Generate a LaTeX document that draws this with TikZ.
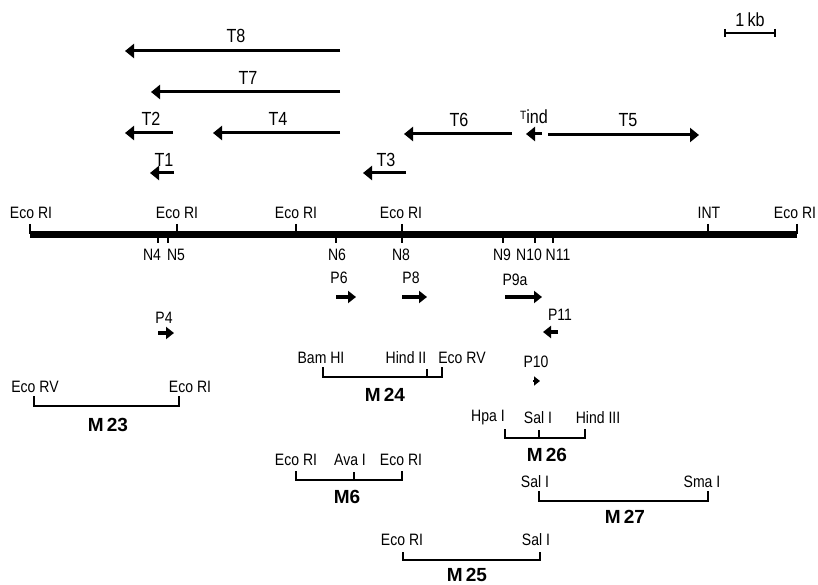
\documentclass[tikz,border=0pt]{standalone}
\usepackage{fontspec}
\setmainfont{Liberation Sans}
\newfontfamily\labfont[FakeStretch=0.85]{Liberation Sans}
\usetikzlibrary{arrows.meta}
\begin{document}
\begin{tikzpicture}[x=1pt,y=-1pt,
 lab/.style={font=\labfont\fontsize{16.5}{16.5}\selectfont, inner sep=0pt},
 tlab/.style={font=\labfont\fontsize{19}{19}\selectfont, inner sep=0pt},
 mlab/.style={font=\fontsize{19}{19}\selectfont\bfseries, inner sep=0pt},
 tr/.style={line width=3pt, -{Triangle[length=9pt,width=14pt]}},
 pr/.style={line width=3.5pt, -{Triangle[length=8pt,width=12pt]}},
 tickmark/.style={line width=2pt},
 brk/.style={line width=2.8pt}]
\useasboundingbox (0,0) rectangle (818,585);

% ---- scale bar
\coordinate (kbl) at (725,33); \coordinate (kbr) at (775,33);
\draw[line width=2.5pt] (kbl) -- (kbr);
\draw[tickmark] (725,29) -- (725,37) (775,29) -- (775,37);
\node[tlab] (kb) at (750,20) {1\,kb};

% ---- transcripts
\coordinate (t8s) at (340,51);  \coordinate (t8e) at (125,51);
\coordinate (t7s) at (340,92);  \coordinate (t7e) at (151,92);
\coordinate (t2s) at (173,133); \coordinate (t2e) at (125,133);
\coordinate (t4s) at (340,133); \coordinate (t4e) at (213,133);
\coordinate (t1s) at (174,173); \coordinate (t1e) at (150,173);
\coordinate (t3s) at (406,173); \coordinate (t3e) at (363,173);
\coordinate (t6s) at (512,134); \coordinate (t6e) at (404,134);
\coordinate (tis) at (542,134); \coordinate (tie) at (526,134);
\coordinate (t5s) at (548,135); \coordinate (t5e) at (699,135);
\foreach \a in {t8,t7,t2,t4,t1,t3,t6,ti,t5} \draw[tr] (\a s) -- (\a e);
\node[tlab] (lt8) at (236,36) {T8};
\node[tlab] (lt7) at (248,78) {T7};
\node[tlab] (lt2) at (151,119) {T2};
\node[tlab] (lt4) at (278,119) {T4};
\node[tlab] (lt1) at (164,160) {T1};
\node[tlab] (lt3) at (386,160) {T3};
\node[tlab] (lt6) at (459,120) {T6};
\node[tlab] (lti) at (534,117) {\raisebox{4pt}{\fontsize{12}{12}\selectfont T}ind};
\node[tlab] (lt5) at (628,120) {T5};

% ---- main map
\coordinate (ml) at (30,234); \coordinate (mr) at (797,234);
\draw[line width=7pt] (ml) -- (mr);
\foreach \x in {30,177,296,402,708,797} \draw[tickmark] (\x,224) -- (\x,234);
\foreach \x in {158,168,336,402,503,535,553} \draw[tickmark] (\x,234) -- (\x,243);
\node[lab] (e1) at (31,213) {Eco RI};
\node[lab] (e2) at (177,213) {Eco RI};
\node[lab] (e3) at (296,213) {Eco RI};
\node[lab] (e4) at (401,213) {Eco RI};
\node[lab] (int) at (709,213) {INT};
\node[lab] (e5) at (795,213) {Eco RI};
\node[lab] (n4) at (152,255) {N4};
\node[lab] (n5) at (176,255) {N5};
\node[lab] (n6) at (337,255) {N6};
\node[lab] (n8) at (401,255) {N8};
\node[lab] (n9) at (502,255) {N9};
\node[lab] (n10) at (529,255) {N10};
\node[lab] (n11) at (558,255) {N11};

% ---- promoters
\coordinate (p6s) at (336,297);  \coordinate (p6e) at (356,297);
\coordinate (p8s) at (402,297);  \coordinate (p8e) at (427,297);
\coordinate (p9s) at (505,297);  \coordinate (p9e) at (542,297);
\coordinate (p11s) at (558,332); \coordinate (p11e) at (543,332);
\coordinate (p4s) at (158,333);  \coordinate (p4e) at (174,333);
\coordinate (p10s) at (533,381); \coordinate (p10e) at (540,381);
\foreach \a in {p6,p8,p9,p11,p4} \draw[pr] (\a s) -- (\a e);
\draw[line width=2pt, -{Triangle[length=6pt,width=9pt]}] (p10s) -- (p10e);
\node[lab] (lp6) at (339,278) {P6};
\node[lab] (lp8) at (411,278) {P8};
\node[lab] (lp9) at (515,280) {P9a};
\node[lab] (lp11) at (560,315) {P11};
\node[lab] (lp4) at (164,318) {P4};
\node[lab] (lp10) at (536,362) {P10};

% ---- M23
\coordinate (m23l) at (34,396); \coordinate (m23r) at (179,396);
\draw[brk] (m23l) |- (179,406) -- (m23r);
\node[lab] (a23) at (35,387) {Eco RV};
\node[lab] (b23) at (190,387) {Eco RI};
\node[mlab] (M23) at (108,425) {M\,23};

% ---- M24
\coordinate (m24l) at (323,367); \coordinate (m24r) at (442,367);
\draw[brk] (m24l) |- (442,377) -- (m24r);
\draw[tickmark] (427,369) -- (427,377);
\node[lab] (a24) at (321,358) {Bam HI};
\node[lab] (b24) at (406,358) {Hind II};
\node[lab] (c24) at (462,358) {Eco RV};
\node[mlab] (M24) at (385,395) {M\,24};

% ---- M6
\coordinate (m6l) at (296,471); \coordinate (m6r) at (402,471);
\draw[brk] (m6l) |- (402,480) -- (m6r);
\draw[tickmark] (354,472) -- (354,480);
\node[lab] (a6) at (296,460) {Eco RI};
\node[lab] (b6) at (350,460) {Ava I};
\node[lab] (c6) at (401,460) {Eco RI};
\node[mlab] (M6) at (347,497) {M6};

% ---- M25
\coordinate (m25l) at (403,552); \coordinate (m25r) at (540,552);
\draw[brk] (m25l) |- (540,560) -- (m25r);
\node[lab] (a25) at (402,540) {Eco RI};
\node[lab] (b25) at (536,540) {Sal I};
\node[mlab] (M25) at (467,575) {M\,25};

% ---- M26
\coordinate (m26l) at (505,429); \coordinate (m26r) at (585,429);
\draw[brk] (m26l) |- (585,438) -- (m26r);
\draw[tickmark] (539,430) -- (539,438);
\node[lab] (a26) at (488,418) {Hpa I};
\node[lab] (b26) at (538,418) {Sal I};
\node[lab] (c26) at (598,418) {Hind III};
\node[mlab] (M26) at (547,455) {M\,26};

% ---- M27
\coordinate (m27l) at (539,491); \coordinate (m27r) at (708,491);
\draw[brk] (m27l) |- (708,501) -- (m27r);
\node[lab] (a27) at (535,482) {Sal I};
\node[lab] (b27) at (702,482) {Sma I};
\node[mlab] (M27) at (625,517) {M\,27};
\end{tikzpicture}
\end{document}
